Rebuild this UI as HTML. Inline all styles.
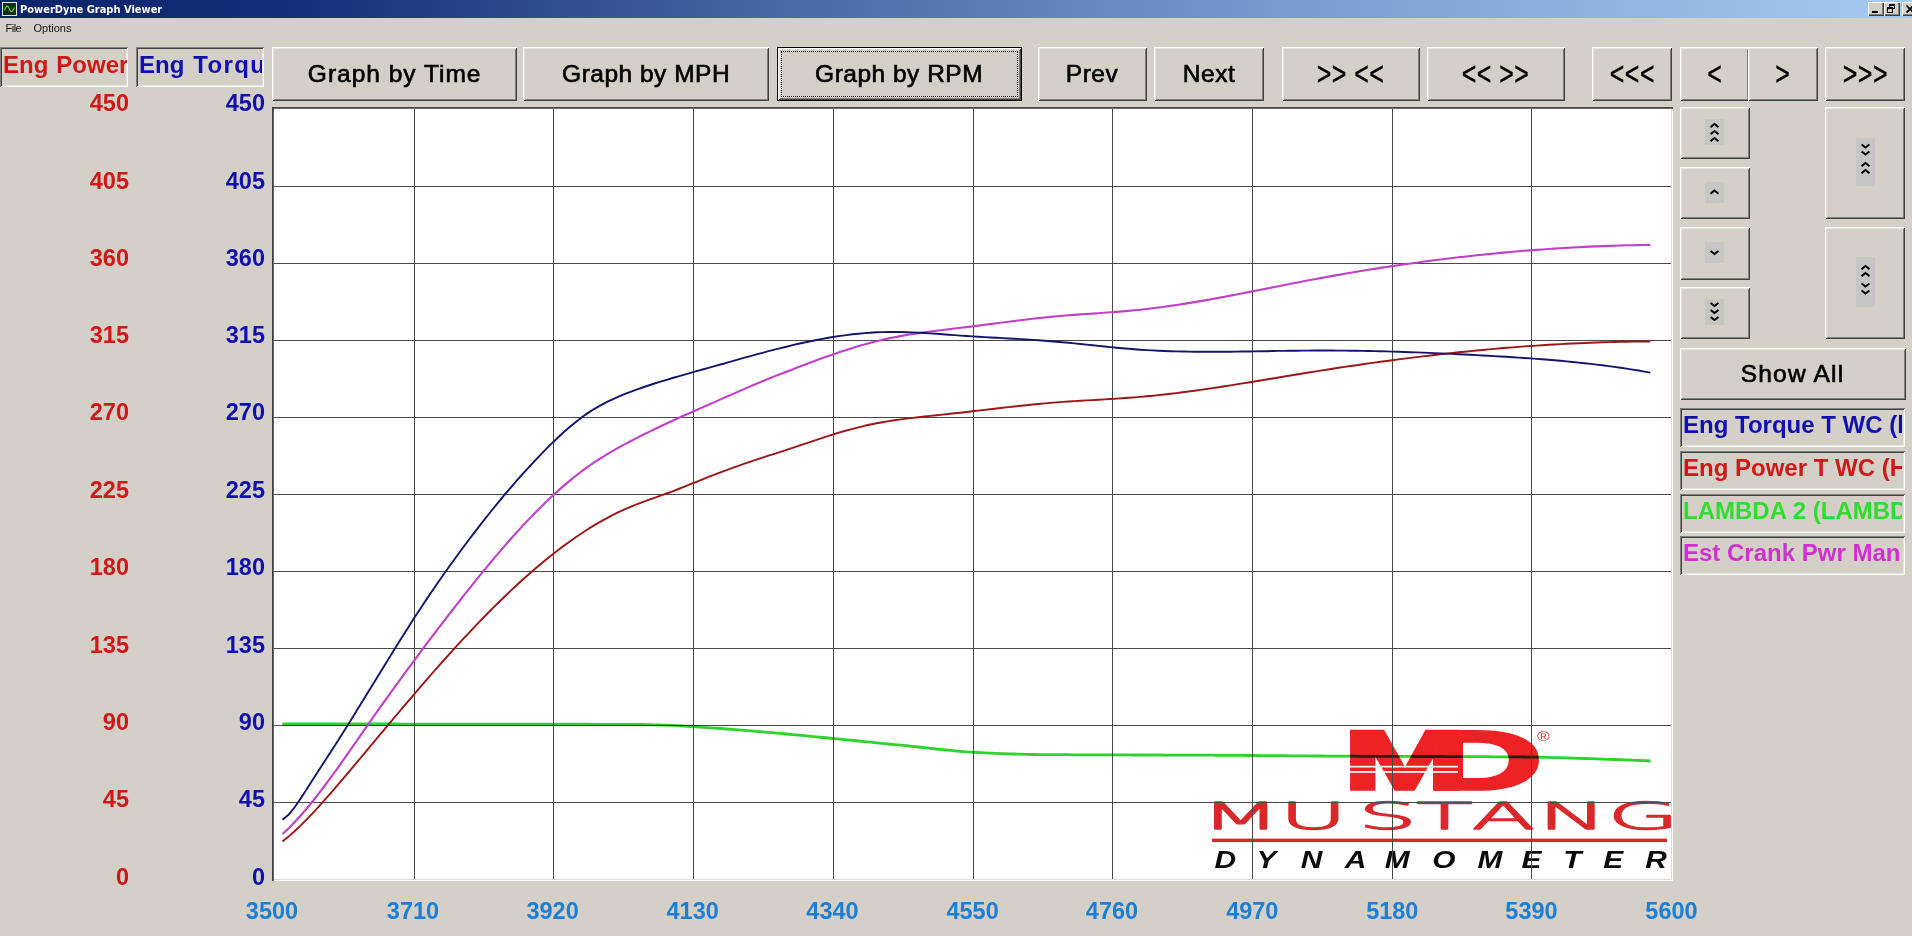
<!DOCTYPE html>
<html lang="en">
<head>
<meta charset="utf-8">
<title>PowerDyne Graph Viewer</title>
<style>
html,body{margin:0;padding:0;}
body{width:1912px;height:936px;overflow:hidden;background:#d4d0c8;position:relative;
  font-family:"Liberation Sans","DejaVu Sans",sans-serif;color:#000;}
.abs{position:absolute;}
#titlebar{left:0;top:0;width:1912px;height:18px;
  background:linear-gradient(90deg,#0a246a 0px,#14307a 300px,#4a6aa8 800px,#7a9cd0 1300px,#a6caf0 1912px);}
#title{left:20px;top:2px;height:16px;line-height:16px;color:#fff;font-weight:bold;font-size:11px;
  font-family:"DejaVu Sans Condensed","DejaVu Sans","Liberation Sans",sans-serif;letter-spacing:0;white-space:nowrap;}
.menu{top:21px;height:14px;line-height:14px;font-size:11px;color:#111;white-space:nowrap;}
.wbtn{top:2px;width:16px;height:14px;background:#d4d0c8;box-sizing:border-box;
  box-shadow:inset 1px 1px 0 #fff,inset -1px -1px 0 #404040,inset -2px -2px 0 #808080;}
.btn{box-sizing:border-box;background:#d4d0c8;
  box-shadow:inset 1px 1px 0 #ffffff,inset -1px -1px 0 #404040,inset 2px 2px 0 #e4e2dc,inset -2px -2px 0 #808080;
  display:flex;align-items:center;justify-content:center;
  font-size:22.5px;white-space:nowrap;-webkit-text-stroke:0.6px #000;letter-spacing:0.45px;}
.sunk{box-sizing:border-box;background:#d4d0c8;overflow:hidden;white-space:nowrap;
  box-shadow:inset 1px 1px 0 #808080,inset -1px -1px 0 #ffffff,inset 2px 2px 0 #404040,inset -2px -2px 0 #e4e2dc;
  font-weight:bold;font-size:24px;}
.clip{display:block;overflow:hidden;white-space:nowrap;}
.ax{font-weight:bold;font-size:23.5px;height:26px;line-height:26px;white-space:nowrap;}
.btn .t{display:inline-block;position:relative;top:1px;transform:scale(1.09,1.06);}
.btn .t.c{transform:scale(1.11,1.45);-webkit-text-stroke:0.25px #000;}
#rpm{box-shadow:inset 0 0 0 1px #000,inset 2px 2px 0 #ffffff,inset -2px -2px 0 #404040,inset 3px 3px 0 #e4e2dc,inset -3px -3px 0 #808080;}
#rpm::after{content:"";position:absolute;left:4px;top:4px;right:4px;bottom:4px;border:1px dotted #000;}
.r{color:#d01818;}
.b{color:#1010b0;}
.xl{color:#1c7ed6;text-align:center;width:80px;}
.yl{text-align:right;width:60px;}
</style>
</head>
<body>
<!-- title bar -->
<div id="titlebar" class="abs"></div>
<svg class="abs" style="left:2px;top:2px" width="15" height="14" viewBox="0 0 15 14">
  <rect x="0.5" y="0.5" width="14" height="13" fill="#10300c" stroke="#e8e8e8" stroke-width="1"/>
  <path d="M2.5 8.5 C4 3,6 3,7.5 7 S10.5 10,12.5 5.5" fill="none" stroke="#56d040" stroke-width="1.2"/>
</svg>
<div id="title" class="abs">PowerDyne Graph Viewer</div>
<div class="abs wbtn" style="left:1868px"><div class="abs" style="left:4px;top:9px;width:6px;height:2px;background:#000"></div></div>
<div class="abs wbtn" style="left:1884px">
  <div class="abs" style="left:5px;top:2px;width:6px;height:5px;border:1px solid #000;border-top-width:2px;box-sizing:border-box"></div>
  <div class="abs" style="left:3px;top:5px;width:6px;height:6px;border:1px solid #000;border-top-width:2px;box-sizing:border-box;background:#d4d0c8"></div>
</div>
<div class="abs wbtn" style="left:1902px">
  <svg class="abs" style="left:4px;top:3px" width="9" height="8" viewBox="0 0 9 8"><path d="M0.5 0.5 L7.5 7.5 M7.5 0.5 L0.5 7.5" stroke="#000" stroke-width="1.8" fill="none"/></svg>
</div>
<!-- menu -->
<div class="abs menu" style="left:5.5px;letter-spacing:-0.5px">File</div>
<div class="abs menu" style="left:33.5px">Options</div>

<!-- axis name boxes -->
<div class="abs sunk r" style="left:0;top:47px;width:128px;height:40px;line-height:35px;padding-left:3px;"><span class="clip" style="width:123.5px;word-spacing:1px;letter-spacing:0.05px">Eng Power T WC (HP)</span></div>
<div class="abs sunk b" style="left:136px;top:47px;width:128px;height:40px;line-height:35px;padding-left:3px;"><span class="clip" style="width:123px;word-spacing:2.2px">Eng <span style="letter-spacing:1.4px">Torque</span> T WC (lbs)</span></div>

<!-- toolbar buttons -->
<div class="abs btn" style="left:272px;top:47px;width:245px;height:54px;"><span class="t" style="letter-spacing:0.9px">Graph by Time</span></div>
<div class="abs btn" style="left:523px;top:47px;width:246px;height:54px;"><span class="t">Graph by MPH</span></div>
<div class="abs btn" id="rpm" style="left:777px;top:47px;width:245px;height:54px;"><span class="t">Graph by RPM</span></div>
<div class="abs btn" style="left:1038px;top:47px;width:109px;height:54px;"><span class="t">Prev</span></div>
<div class="abs btn" style="left:1154px;top:47px;width:110px;height:54px;"><span class="t">Next</span></div>
<div class="abs btn" style="left:1282px;top:47px;width:138px;height:54px;"><span class="t c">&gt;&gt; &lt;&lt;</span></div>
<div class="abs btn" style="left:1427px;top:47px;width:138px;height:54px;"><span class="t c">&lt;&lt; &gt;&gt;</span></div>
<div class="abs btn" style="left:1592px;top:47px;width:80px;height:54px;"><span class="t c">&lt;&lt;&lt;</span></div>
<div class="abs btn" style="left:1680px;top:47px;width:69px;height:54px;"><span class="t c">&lt;</span></div>
<div class="abs btn" style="left:1748px;top:47px;width:70px;height:54px;"><span class="t c">&gt;</span></div>
<div class="abs btn" style="left:1825px;top:47px;width:80px;height:54px;"><span class="t c">&gt;&gt;&gt;</span></div>

<!--GRAPH_START-->
<svg class="abs" id="graph" style="left:272px;top:107px" width="1401" height="775" viewBox="272 107 1401 775">
<rect x="272" y="107" width="1401" height="774" fill="#ffffff"/>
<rect x="274" y="879" width="1398" height="1" fill="#dcdad4"/>
<rect x="1671" y="109" width="1" height="771" fill="#dcdad4"/>
<g id="logo" font-family="'Liberation Sans','DejaVu Sans',sans-serif">
<text transform="translate(1343.4,788.7) scale(1.77,1)" font-size="83" font-weight="bold" fill="#ec2224" stroke="#ec2224" stroke-width="5.3" stroke-linejoin="miter" vector-effect="non-scaling-stroke">M</text>
<text transform="translate(1425.6,788.7) scale(1.95,1)" font-size="83" font-weight="bold" fill="#ec2224" stroke="#ec2224" stroke-width="5.3" stroke-linejoin="miter" vector-effect="non-scaling-stroke">D</text>
<rect x="1349" y="765.8" width="109" height="1.7" fill="#ffffff"/>
<rect x="1349" y="771.1" width="109" height="1.7" fill="#ffffff"/>
<text transform="translate(1537,740.6) scale(1.33,1)" font-size="13" fill="#e03030">®</text>
<text transform="translate(0,828.6) scale(2.5,1)" font-family="'DejaVu Sans','Liberation Sans',sans-serif" font-weight="200" font-size="37" fill="#d9282c" stroke="#d9282c" stroke-width="2.4" stroke-linejoin="round" vector-effect="non-scaling-stroke" x="480.3 511.8 543.3 566.5 588.7 615.2 643.0">MUSTANG</text>
<rect x="1212" y="838.6" width="455" height="3.5" fill="#d9282c"/>
<text transform="translate(0,868.2) scale(1.3,1)" font-size="23" font-weight="bold" font-style="italic" fill="#0a0a0a" x="934.3 966.6 1000.6 1034.5 1065.2 1101.7 1136.6 1170.4 1202.5 1233.2 1265.6">DYNAMOMETER</text>
</g>

<path d="M414.5 109V879M553.5 109V879M693.5 109V879M833.5 109V879M973.5 109V879M1112.5 109V879M1252.5 109V879M1392.5 109V879M1531.5 109V879M274 186.5H1671M274 263.5H1671M274 340.5H1671M274 417.5H1671M274 494.5H1671M274 571.5H1671M274 648.5H1671M274 725.5H1671M274 802.5H1671" stroke="#484848" stroke-width="1" fill="none" shape-rendering="crispEdges"/>
<path d="M282.4 724.0 L288.4 724.0 L294.4 724.0 L300.4 724.0 L306.4 724.0 L312.4 724.0 L318.4 724.0 L324.4 724.0 L330.4 724.0 L336.4 724.0 L342.4 724.0 L348.4 724.0 L354.4 724.0 L360.4 724.0 L366.4 724.0 L372.4 724.0 L378.4 724.0 L384.4 724.0 L390.4 724.0 L396.4 724.0 L402.4 724.1 L408.4 724.1 L414.4 724.1 L420.4 724.1 L426.4 724.1 L432.4 724.1 L438.4 724.1 L444.4 724.1 L450.4 724.1 L456.4 724.1 L462.4 724.1 L468.4 724.1 L474.4 724.1 L480.4 724.1 L486.4 724.1 L492.4 724.1 L498.4 724.1 L504.4 724.1 L510.4 724.2 L516.4 724.2 L522.4 724.2 L528.4 724.2 L534.4 724.2 L540.4 724.2 L546.4 724.2 L552.4 724.2 L558.4 724.2 L564.4 724.2 L570.4 724.2 L576.4 724.2 L582.4 724.2 L588.4 724.2 L594.4 724.3 L600.4 724.3 L606.4 724.3 L612.4 724.3 L618.4 724.3 L624.4 724.3 L630.4 724.4 L636.4 724.5 L642.4 724.5 L648.4 724.6 L654.4 724.8 L660.4 724.9 L666.4 725.1 L672.4 725.3 L678.4 725.7 L684.4 726.1 L690.4 726.5 L696.4 726.9 L702.4 727.3 L708.4 727.7 L714.4 728.1 L720.4 728.5 L726.4 729.0 L732.4 729.4 L738.4 729.9 L744.4 730.4 L750.4 730.8 L756.4 731.3 L762.4 731.8 L768.4 732.4 L774.4 732.9 L780.4 733.4 L786.4 734.0 L792.4 734.6 L798.4 735.1 L804.4 735.7 L810.4 736.3 L816.4 736.9 L822.4 737.5 L828.4 738.0 L834.4 738.6 L840.4 739.2 L846.4 739.8 L852.4 740.4 L858.4 741.0 L864.4 741.6 L870.4 742.2 L876.4 742.8 L882.4 743.4 L888.4 744.0 L894.4 744.6 L900.4 745.1 L906.4 745.7 L912.4 746.4 L918.4 747.0 L924.4 747.7 L930.4 748.3 L936.4 749.0 L942.4 749.6 L948.4 750.2 L954.4 750.8 L960.4 751.3 L966.4 751.8 L972.4 752.1 L978.4 752.5 L984.4 752.8 L990.4 753.1 L996.4 753.3 L1002.4 753.6 L1008.4 753.8 L1014.4 754.0 L1020.4 754.2 L1026.4 754.4 L1032.4 754.5 L1038.4 754.6 L1044.4 754.6 L1050.4 754.7 L1056.4 754.7 L1062.4 754.7 L1068.4 754.7 L1074.4 754.8 L1080.4 754.8 L1086.4 754.8 L1092.4 754.8 L1098.4 754.8 L1104.4 754.8 L1110.4 754.9 L1116.4 754.9 L1122.4 754.9 L1128.4 754.9 L1134.4 755.0 L1140.4 755.0 L1146.4 755.0 L1152.4 755.0 L1158.4 755.0 L1164.4 755.1 L1170.4 755.1 L1176.4 755.1 L1182.4 755.1 L1188.4 755.1 L1194.4 755.2 L1200.4 755.2 L1206.4 755.2 L1212.4 755.2 L1218.4 755.3 L1224.4 755.3 L1230.4 755.4 L1236.4 755.4 L1242.4 755.4 L1248.4 755.5 L1254.4 755.5 L1260.4 755.6 L1266.4 755.6 L1272.4 755.7 L1278.4 755.7 L1284.4 755.7 L1290.4 755.8 L1296.4 755.8 L1302.4 755.9 L1308.4 755.9 L1314.4 756.0 L1320.4 756.0 L1326.4 756.1 L1332.4 756.1 L1338.4 756.1 L1344.4 756.2 L1350.4 756.2 L1356.4 756.2 L1362.4 756.3 L1368.4 756.3 L1374.4 756.3 L1380.4 756.3 L1386.4 756.4 L1392.4 756.4 L1398.4 756.4 L1404.4 756.4 L1410.4 756.4 L1416.4 756.5 L1422.4 756.5 L1428.4 756.5 L1434.4 756.5 L1440.4 756.5 L1446.4 756.6 L1452.4 756.6 L1458.4 756.6 L1464.4 756.6 L1470.4 756.7 L1476.4 756.7 L1482.4 756.7 L1488.4 756.7 L1494.4 756.8 L1500.4 756.8 L1506.4 756.9 L1512.4 756.9 L1518.4 756.9 L1524.4 757.0 L1530.4 757.1 L1536.4 757.2 L1542.4 757.3 L1548.4 757.4 L1554.4 757.6 L1560.4 757.7 L1566.4 757.9 L1572.4 758.1 L1578.4 758.3 L1584.4 758.5 L1590.4 758.7 L1596.4 758.9 L1602.4 759.1 L1608.4 759.3 L1614.4 759.5 L1620.4 759.7 L1626.4 760.0 L1632.4 760.2 L1638.4 760.5 L1644.4 760.7 L1650.4 761.0 L1650.5 761.0" stroke="#2cd42c" stroke-width="2.8" fill="none" stroke-linejoin="round" style="mix-blend-mode:multiply"/>
<path d="M282.5 841.5 L288.5 836.6 L294.5 831.2 L300.5 825.6 L306.5 819.6 L312.5 813.3 L318.5 806.8 L324.5 800.2 L330.5 793.4 L336.5 786.4 L342.5 779.4 L348.5 772.3 L354.5 765.2 L360.5 758.0 L366.5 750.8 L372.5 743.6 L378.5 736.4 L384.5 729.3 L390.5 722.1 L396.5 715.0 L402.5 707.9 L408.5 700.8 L414.5 693.8 L420.5 686.8 L426.5 679.9 L432.5 673.0 L438.5 666.2 L444.5 659.5 L450.5 652.8 L456.5 646.2 L462.5 639.7 L468.5 633.3 L474.5 626.9 L480.5 620.7 L486.5 614.5 L492.5 608.4 L498.5 602.5 L504.5 596.7 L510.5 590.9 L516.5 585.3 L522.5 579.8 L528.5 574.5 L534.5 569.3 L540.5 564.2 L546.5 559.2 L552.5 554.4 L558.5 549.8 L564.5 545.2 L570.5 540.9 L576.5 536.7 L582.5 532.7 L588.5 528.8 L594.5 525.1 L600.5 521.6 L606.5 518.3 L612.5 515.1 L618.5 512.1 L624.5 509.4 L630.5 506.8 L636.5 504.4 L642.5 502.1 L648.5 499.9 L654.5 497.8 L660.5 495.6 L666.5 493.5 L672.5 491.3 L678.5 489.0 L684.5 486.6 L690.5 484.2 L696.5 481.8 L702.5 479.3 L708.5 476.9 L714.5 474.6 L720.5 472.3 L726.5 470.1 L732.5 467.9 L738.5 465.8 L744.5 463.7 L750.5 461.7 L756.5 459.7 L762.5 457.7 L768.5 455.7 L774.5 453.8 L780.5 451.8 L786.5 449.8 L792.5 447.9 L798.5 445.9 L804.5 443.9 L810.5 441.8 L816.5 439.8 L822.5 437.8 L828.5 435.9 L834.5 434.0 L840.5 432.2 L846.5 430.5 L852.5 428.8 L858.5 427.3 L864.5 425.8 L870.5 424.5 L876.5 423.3 L882.5 422.2 L888.5 421.1 L894.5 420.2 L900.5 419.4 L906.5 418.6 L912.5 417.9 L918.5 417.2 L924.5 416.5 L930.5 415.9 L936.5 415.2 L942.5 414.6 L948.5 414.0 L954.5 413.3 L960.5 412.7 L966.5 412.0 L972.5 411.3 L978.5 410.6 L984.5 409.9 L990.5 409.2 L996.5 408.5 L1002.5 407.8 L1008.5 407.1 L1014.5 406.5 L1020.5 405.8 L1026.5 405.2 L1032.5 404.5 L1038.5 404.0 L1044.5 403.4 L1050.5 402.9 L1056.5 402.4 L1062.5 401.9 L1068.5 401.5 L1074.5 401.1 L1080.5 400.8 L1086.5 400.4 L1092.5 400.1 L1098.5 399.7 L1104.5 399.4 L1110.5 399.0 L1116.5 398.6 L1122.5 398.2 L1128.5 397.8 L1134.5 397.4 L1140.5 396.9 L1146.5 396.3 L1152.5 395.8 L1158.5 395.1 L1164.5 394.5 L1170.5 393.8 L1176.5 393.1 L1182.5 392.3 L1188.5 391.5 L1194.5 390.7 L1200.5 389.9 L1206.5 389.0 L1212.5 388.1 L1218.5 387.2 L1224.5 386.3 L1230.5 385.4 L1236.5 384.4 L1242.5 383.4 L1248.5 382.5 L1254.5 381.5 L1260.5 380.5 L1266.5 379.5 L1272.5 378.5 L1278.5 377.5 L1284.5 376.5 L1290.5 375.5 L1296.5 374.5 L1302.5 373.5 L1308.5 372.5 L1314.5 371.6 L1320.5 370.6 L1326.5 369.7 L1332.5 368.8 L1338.5 367.8 L1344.5 366.9 L1350.5 366.0 L1356.5 365.2 L1362.5 364.3 L1368.5 363.4 L1374.5 362.6 L1380.5 361.8 L1386.5 361.0 L1392.5 360.2 L1398.5 359.4 L1404.5 358.6 L1410.5 357.9 L1416.5 357.1 L1422.5 356.4 L1428.5 355.7 L1434.5 355.0 L1440.5 354.3 L1446.5 353.6 L1452.5 353.0 L1458.5 352.3 L1464.5 351.7 L1470.5 351.1 L1476.5 350.5 L1482.5 350.0 L1488.5 349.4 L1494.5 348.9 L1500.5 348.3 L1506.5 347.8 L1512.5 347.4 L1518.5 346.9 L1524.5 346.4 L1530.5 346.0 L1536.5 345.6 L1542.5 345.2 L1548.5 344.8 L1554.5 344.5 L1560.5 344.1 L1566.5 343.8 L1572.5 343.5 L1578.5 343.2 L1584.5 343.0 L1590.5 342.7 L1596.5 342.5 L1602.5 342.3 L1608.5 342.1 L1614.5 342.0 L1620.5 341.8 L1626.5 341.7 L1632.5 341.6 L1638.5 341.6 L1644.5 341.5 L1650.3 341.5" stroke="#9c1616" stroke-width="1.9" fill="none" stroke-linejoin="round"/>
<path d="M282.5 834.0 L288.5 828.4 L294.5 822.3 L300.5 815.8 L306.5 808.8 L312.5 801.5 L318.5 793.9 L324.5 786.0 L330.5 777.9 L336.5 769.6 L342.5 761.2 L348.5 752.6 L354.5 744.1 L360.5 735.4 L366.5 726.8 L372.5 718.2 L378.5 709.7 L384.5 701.3 L390.5 692.9 L396.5 684.6 L402.5 676.3 L408.5 668.1 L414.5 660.0 L420.5 651.9 L426.5 643.9 L432.5 636.0 L438.5 628.1 L444.5 620.3 L450.5 612.5 L456.5 604.8 L462.5 597.2 L468.5 589.6 L474.5 582.1 L480.5 574.7 L486.5 567.4 L492.5 560.2 L498.5 553.1 L504.5 546.1 L510.5 539.3 L516.5 532.6 L522.5 526.0 L528.5 519.6 L534.5 513.4 L540.5 507.4 L546.5 501.5 L552.5 495.8 L558.5 490.4 L564.5 485.1 L570.5 480.1 L576.5 475.3 L582.5 470.7 L588.5 466.3 L594.5 462.2 L600.5 458.3 L606.5 454.6 L612.5 451.1 L618.5 447.7 L624.5 444.4 L630.5 441.2 L636.5 438.1 L642.5 435.0 L648.5 432.1 L654.5 429.2 L660.5 426.3 L666.5 423.5 L672.5 420.7 L678.5 418.0 L684.5 415.3 L690.5 412.7 L696.5 410.0 L702.5 407.4 L708.5 404.7 L714.5 402.1 L720.5 399.4 L726.5 396.8 L732.5 394.1 L738.5 391.5 L744.5 388.9 L750.5 386.3 L756.5 383.8 L762.5 381.3 L768.5 378.8 L774.5 376.4 L780.5 374.0 L786.5 371.7 L792.5 369.4 L798.5 367.1 L804.5 364.8 L810.5 362.5 L816.5 360.3 L822.5 358.1 L828.5 356.0 L834.5 353.9 L840.5 351.8 L846.5 349.9 L852.5 348.0 L858.5 346.1 L864.5 344.4 L870.5 342.7 L876.5 341.2 L882.5 339.7 L888.5 338.4 L894.5 337.2 L900.5 336.1 L906.5 335.0 L912.5 334.0 L918.5 333.1 L924.5 332.3 L930.5 331.5 L936.5 330.7 L942.5 330.0 L948.5 329.2 L954.5 328.5 L960.5 327.8 L966.5 327.1 L972.5 326.4 L978.5 325.6 L984.5 324.8 L990.5 324.1 L996.5 323.3 L1002.5 322.5 L1008.5 321.7 L1014.5 321.0 L1020.5 320.2 L1026.5 319.5 L1032.5 318.8 L1038.5 318.1 L1044.5 317.5 L1050.5 316.9 L1056.5 316.3 L1062.5 315.8 L1068.5 315.3 L1074.5 314.9 L1080.5 314.4 L1086.5 314.0 L1092.5 313.6 L1098.5 313.2 L1104.5 312.8 L1110.5 312.3 L1116.5 311.9 L1122.5 311.4 L1128.5 310.9 L1134.5 310.3 L1140.5 309.7 L1146.5 309.0 L1152.5 308.3 L1158.5 307.5 L1164.5 306.7 L1170.5 305.9 L1176.5 305.0 L1182.5 304.1 L1188.5 303.1 L1194.5 302.1 L1200.5 301.1 L1206.5 300.1 L1212.5 299.0 L1218.5 297.9 L1224.5 296.8 L1230.5 295.6 L1236.5 294.5 L1242.5 293.3 L1248.5 292.1 L1254.5 291.0 L1260.5 289.8 L1266.5 288.6 L1272.5 287.4 L1278.5 286.2 L1284.5 285.0 L1290.5 283.8 L1296.5 282.7 L1302.5 281.5 L1308.5 280.3 L1314.5 279.2 L1320.5 278.1 L1326.5 277.0 L1332.5 275.9 L1338.5 274.9 L1344.5 273.8 L1350.5 272.8 L1356.5 271.8 L1362.5 270.8 L1368.5 269.8 L1374.5 268.9 L1380.5 267.9 L1386.5 267.0 L1392.5 266.1 L1398.5 265.2 L1404.5 264.3 L1410.5 263.5 L1416.5 262.7 L1422.5 261.8 L1428.5 261.0 L1434.5 260.3 L1440.5 259.5 L1446.5 258.8 L1452.5 258.0 L1458.5 257.3 L1464.5 256.7 L1470.5 256.0 L1476.5 255.3 L1482.5 254.7 L1488.5 254.1 L1494.5 253.5 L1500.5 252.9 L1506.5 252.4 L1512.5 251.8 L1518.5 251.3 L1524.5 250.8 L1530.5 250.4 L1536.5 249.9 L1542.5 249.5 L1548.5 249.0 L1554.5 248.6 L1560.5 248.2 L1566.5 247.9 L1572.5 247.5 L1578.5 247.2 L1584.5 246.9 L1590.5 246.6 L1596.5 246.4 L1602.5 246.1 L1608.5 245.9 L1614.5 245.7 L1620.5 245.5 L1626.5 245.3 L1632.5 245.2 L1638.5 245.1 L1644.5 245.0 L1650.3 244.9" stroke="#c040c8" stroke-width="2.1" fill="none" stroke-linejoin="round"/>
<path d="M282.5 819.8 L288.5 814.8 L294.5 807.5 L300.5 798.8 L306.5 789.4 L312.5 780.1 L318.5 770.8 L324.5 761.6 L330.5 752.3 L336.5 742.9 L342.5 733.5 L348.5 723.9 L354.5 714.2 L360.5 704.5 L366.5 694.8 L372.5 685.0 L378.5 675.2 L384.5 665.4 L390.5 655.7 L396.5 646.0 L402.5 636.4 L408.5 626.9 L414.5 617.6 L420.5 608.4 L426.5 599.4 L432.5 590.5 L438.5 581.8 L444.5 573.2 L450.5 564.8 L456.5 556.5 L462.5 548.3 L468.5 540.3 L474.5 532.4 L480.5 524.6 L486.5 517.0 L492.5 509.5 L498.5 502.1 L504.5 494.9 L510.5 487.9 L516.5 480.9 L522.5 474.2 L528.5 467.6 L534.5 461.1 L540.5 454.8 L546.5 448.7 L552.5 442.7 L558.5 437.0 L564.5 431.5 L570.5 426.3 L576.5 421.4 L582.5 416.8 L588.5 412.6 L594.5 408.8 L600.5 405.4 L606.5 402.2 L612.5 399.3 L618.5 396.7 L624.5 394.2 L630.5 391.8 L636.5 389.6 L642.5 387.5 L648.5 385.5 L654.5 383.5 L660.5 381.7 L666.5 379.8 L672.5 378.0 L678.5 376.3 L684.5 374.6 L690.5 372.9 L696.5 371.2 L702.5 369.5 L708.5 367.8 L714.5 366.2 L720.5 364.5 L726.5 362.8 L732.5 361.1 L738.5 359.4 L744.5 357.7 L750.5 356.1 L756.5 354.4 L762.5 352.8 L768.5 351.2 L774.5 349.7 L780.5 348.1 L786.5 346.7 L792.5 345.2 L798.5 343.8 L804.5 342.5 L810.5 341.2 L816.5 340.0 L822.5 338.9 L828.5 337.8 L834.5 336.8 L840.5 335.9 L846.5 335.1 L852.5 334.3 L858.5 333.7 L864.5 333.1 L870.5 332.7 L876.5 332.3 L882.5 332.1 L888.5 332.0 L894.5 332.0 L900.5 332.0 L906.5 332.2 L912.5 332.4 L918.5 332.7 L924.5 333.0 L930.5 333.4 L936.5 333.8 L942.5 334.2 L948.5 334.7 L954.5 335.1 L960.5 335.6 L966.5 336.0 L972.5 336.4 L978.5 336.8 L984.5 337.1 L990.5 337.5 L996.5 337.8 L1002.5 338.1 L1008.5 338.5 L1014.5 338.8 L1020.5 339.1 L1026.5 339.5 L1032.5 339.9 L1038.5 340.3 L1044.5 340.7 L1050.5 341.2 L1056.5 341.7 L1062.5 342.2 L1068.5 342.8 L1074.5 343.4 L1080.5 344.0 L1086.5 344.6 L1092.5 345.2 L1098.5 345.9 L1104.5 346.5 L1110.5 347.1 L1116.5 347.7 L1122.5 348.2 L1128.5 348.8 L1134.5 349.3 L1140.5 349.7 L1146.5 350.1 L1152.5 350.4 L1158.5 350.7 L1164.5 351.0 L1170.5 351.2 L1176.5 351.4 L1182.5 351.5 L1188.5 351.6 L1194.5 351.7 L1200.5 351.8 L1206.5 351.8 L1212.5 351.8 L1218.5 351.8 L1224.5 351.7 L1230.5 351.7 L1236.5 351.6 L1242.5 351.5 L1248.5 351.5 L1254.5 351.4 L1260.5 351.3 L1266.5 351.2 L1272.5 351.0 L1278.5 350.9 L1284.5 350.9 L1290.5 350.8 L1296.5 350.7 L1302.5 350.6 L1308.5 350.6 L1314.5 350.5 L1320.5 350.5 L1326.5 350.5 L1332.5 350.5 L1338.5 350.6 L1344.5 350.6 L1350.5 350.7 L1356.5 350.8 L1362.5 350.9 L1368.5 351.0 L1374.5 351.1 L1380.5 351.3 L1386.5 351.4 L1392.5 351.6 L1398.5 351.8 L1404.5 352.0 L1410.5 352.2 L1416.5 352.4 L1422.5 352.6 L1428.5 352.9 L1434.5 353.1 L1440.5 353.4 L1446.5 353.6 L1452.5 353.9 L1458.5 354.2 L1464.5 354.5 L1470.5 354.8 L1476.5 355.1 L1482.5 355.5 L1488.5 355.8 L1494.5 356.1 L1500.5 356.5 L1506.5 356.8 L1512.5 357.2 L1518.5 357.6 L1524.5 358.0 L1530.5 358.4 L1536.5 358.9 L1542.5 359.3 L1548.5 359.8 L1554.5 360.3 L1560.5 360.8 L1566.5 361.4 L1572.5 362.0 L1578.5 362.6 L1584.5 363.2 L1590.5 363.9 L1596.5 364.6 L1602.5 365.3 L1608.5 366.1 L1614.5 366.9 L1620.5 367.8 L1626.5 368.6 L1632.5 369.6 L1638.5 370.5 L1644.5 371.6 L1650.3 372.6" stroke="#14146c" stroke-width="1.9" fill="none" stroke-linejoin="round"/>
<rect x="272" y="107" width="1401" height="1.8" fill="#484848"/>
<rect x="272" y="107" width="1.8" height="774" fill="#404040"/>
</svg>
<!--GRAPH_END-->

<!--RIGHT_START-->
<div class="abs btn" style="left:1680px;top:107px;width:70px;height:52px;padding:0 1.5px 2px 0;"><svg width="19" height="26" viewBox="0 0 19 26"><rect width="19" height="26" fill="#c6c6c6"/><path d="M6.3 7.6L9.5 5L12.7 7.6M6.3 14.6L9.5 12L12.7 14.6M6.3 21.6L9.5 19L12.7 21.6" stroke="#000" stroke-width="1.9" fill="none" stroke-linecap="square" stroke-linejoin="miter"/></svg></div>
<div class="abs btn" style="left:1680px;top:167px;width:70px;height:52px;padding:0 1.5px 2px 0;"><svg width="19" height="21" viewBox="0 0 19 21"><rect width="19" height="21" fill="#c6c6c6"/><path d="M6.3 11.1L9.5 8.5L12.7 11.1" stroke="#000" stroke-width="1.9" fill="none" stroke-linecap="square" stroke-linejoin="miter"/></svg></div>
<div class="abs btn" style="left:1680px;top:227px;width:70px;height:53px;padding:0 1.5px 2px 0;"><svg width="19" height="21" viewBox="0 0 19 21"><rect width="19" height="21" fill="#c6c6c6"/><path d="M6.3 9.5L9.5 12.1L12.7 9.5" stroke="#000" stroke-width="1.9" fill="none" stroke-linecap="square" stroke-linejoin="miter"/></svg></div>
<div class="abs btn" style="left:1680px;top:287px;width:70px;height:52px;padding:0 1.5px 2px 0;"><svg width="19" height="26" viewBox="0 0 19 26"><rect width="19" height="26" fill="#c6c6c6"/><path d="M6.3 4.5L9.5 7.1L12.7 4.5M6.3 11.5L9.5 14.1L12.7 11.5M6.3 18.5L9.5 21.1L12.7 18.5" stroke="#000" stroke-width="1.9" fill="none" stroke-linecap="square" stroke-linejoin="miter"/></svg></div>
<div class="abs btn" style="left:1825px;top:107px;width:80px;height:112px;padding:0 0 2px 0.5px;"><svg width="19" height="48" viewBox="0 0 19 48"><rect width="19" height="48" fill="#c6c6c6"/><path d="M6.3 7L9.5 9.6L12.7 7M6.3 14L9.5 16.6L12.7 14M6.3 27.6L9.5 25L12.7 27.6M6.3 34.6L9.5 32L12.7 34.6" stroke="#000" stroke-width="1.9" fill="none" stroke-linecap="square" stroke-linejoin="miter"/></svg></div>
<div class="abs btn" style="left:1825px;top:227px;width:80px;height:112px;padding:0 0 2px 0.5px;"><svg width="19" height="50" viewBox="0 0 19 50"><rect width="19" height="50" fill="#c6c6c6"/><path d="M6.3 11.6L9.5 9L12.7 11.6M6.3 18.6L9.5 16L12.7 18.6M6.3 27L9.5 29.6L12.7 27M6.3 34L9.5 36.6L12.7 34" stroke="#000" stroke-width="1.9" fill="none" stroke-linecap="square" stroke-linejoin="miter"/></svg></div>
<div class="abs btn" style="left:1680px;top:348px;width:226px;height:52px;"><span class="t" style="letter-spacing:1.1px">Show All</span></div>
<div class="abs sunk" style="left:1680px;top:407.5px;width:225px;height:39px;line-height:34px;padding-left:3px;color:#1010b0;"><span class="clip" style="width:219px">Eng Torque T WC (lbs)</span></div>
<div class="abs sunk" style="left:1680px;top:450.5px;width:225px;height:39px;line-height:34px;padding-left:3px;color:#d01818;"><span class="clip" style="width:219px">Eng Power T WC (HP)</span></div>
<div class="abs sunk" style="left:1680px;top:493.5px;width:225px;height:39px;line-height:34px;padding-left:3px;color:#30dc30;"><span class="clip" style="width:219px">LAMBDA 2 (LAMBDA)</span></div>
<div class="abs sunk" style="left:1680px;top:536px;width:225px;height:39px;line-height:34px;padding-left:3px;color:#d030d0;"><span class="clip" style="width:219px">Est Crank Pwr Manual (HP)</span></div>
<!--RIGHT_END-->

<!--AXES_START-->
<div class="abs ax yl r" style="left:69px;top:89.6px">450</div>
<div class="abs ax yl b" style="left:205px;top:89.6px">450</div>
<div class="abs ax yl r" style="left:69px;top:167.7px">405</div>
<div class="abs ax yl b" style="left:205px;top:167.7px">405</div>
<div class="abs ax yl r" style="left:69px;top:244.7px">360</div>
<div class="abs ax yl b" style="left:205px;top:244.7px">360</div>
<div class="abs ax yl r" style="left:69px;top:322.2px">315</div>
<div class="abs ax yl b" style="left:205px;top:322.2px">315</div>
<div class="abs ax yl r" style="left:69px;top:399.3px">270</div>
<div class="abs ax yl b" style="left:205px;top:399.3px">270</div>
<div class="abs ax yl r" style="left:69px;top:476.9px">225</div>
<div class="abs ax yl b" style="left:205px;top:476.9px">225</div>
<div class="abs ax yl r" style="left:69px;top:554.3px">180</div>
<div class="abs ax yl b" style="left:205px;top:554.3px">180</div>
<div class="abs ax yl r" style="left:69px;top:631.8px">135</div>
<div class="abs ax yl b" style="left:205px;top:631.8px">135</div>
<div class="abs ax yl r" style="left:69px;top:709.3px">90</div>
<div class="abs ax yl b" style="left:205px;top:709.3px">90</div>
<div class="abs ax yl r" style="left:69px;top:786.4px">45</div>
<div class="abs ax yl b" style="left:205px;top:786.4px">45</div>
<div class="abs ax yl r" style="left:69px;top:864.0px">0</div>
<div class="abs ax yl b" style="left:205px;top:864.0px">0</div>
<div class="abs ax xl" style="left:232.0px;top:897.5px">3500</div>
<div class="abs ax xl" style="left:373.0px;top:897.5px">3710</div>
<div class="abs ax xl" style="left:512.6px;top:897.5px">3920</div>
<div class="abs ax xl" style="left:652.7px;top:897.5px">4130</div>
<div class="abs ax xl" style="left:792.5px;top:897.5px">4340</div>
<div class="abs ax xl" style="left:932.6px;top:897.5px">4550</div>
<div class="abs ax xl" style="left:1072.0px;top:897.5px">4760</div>
<div class="abs ax xl" style="left:1212.3px;top:897.5px">4970</div>
<div class="abs ax xl" style="left:1352.3px;top:897.5px">5180</div>
<div class="abs ax xl" style="left:1491.5px;top:897.5px">5390</div>
<div class="abs ax xl" style="left:1631.5px;top:897.5px">5600</div>
<!--AXES_END-->
</body>
</html>
